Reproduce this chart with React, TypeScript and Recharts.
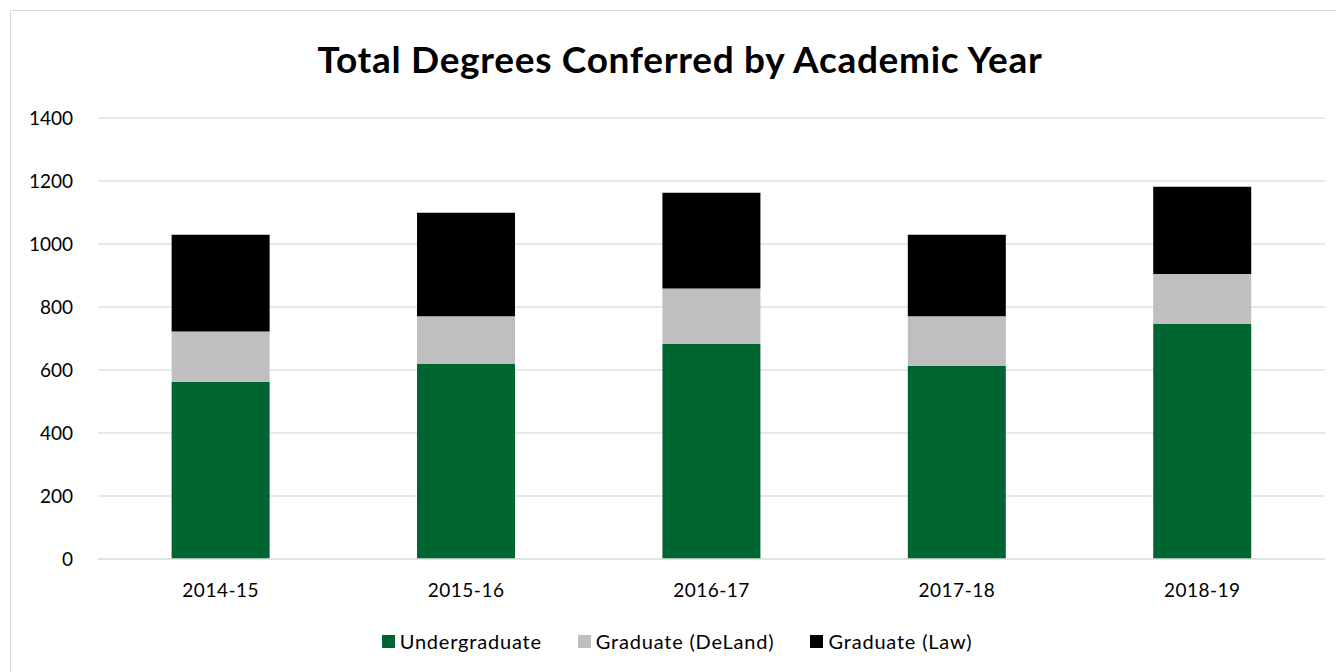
import React from "react";
import { BarChart, Bar, XAxis, YAxis, CartesianGrid } from "recharts";

const years = ["2014-15", "2015-16", "2016-17", "2017-18", "2018-19"];
const undergraduate = [563, 619, 683, 613, 746];
const graduateDeLand = [159, 152, 176, 158, 159];
const graduateLaw = [307, 328, 304, 258, 277];
const yTicks = [0, 200, 400, 600, 800, 1000, 1200, 1400];
const seriesNames = ["Undergraduate", "Graduate (DeLand)", "Graduate (Law)"];
const seriesKeys = ["undergraduate", "deland", "law"];
const seriesColors = ["#006631", "#bfbfbf", "#000000"];

const data = years.map((y, i) => ({
  year: y,
  undergraduate: undergraduate[i],
  deland: graduateDeLand[i],
  law: graduateLaw[i],
}));

const FONT = "Lato, 'Open Sans', sans-serif";

export default function App() {
  return (
    <div style={{ position: "absolute", left: 0, top: 0, width: 1336, height: 672, background: "#fff", overflow: "hidden" }}>
      <div style={{ position: "absolute", left: 10, top: 10, width: 1340, height: 680, border: "1px solid #d9d9d9", boxSizing: "border-box" }} />
      <div style={{ position: "absolute", left: 0, top: 36, width: 1360, textAlign: "center", fontFamily: FONT, fontWeight: 700, fontSize: 37, letterSpacing: 0.7, color: "#000" }}>
        Total Degrees Conferred by Academic Year
      </div>
      <div style={{ position: "absolute", left: 0, top: 0 }}>
        <BarChart width={1336} height={672} data={data} margin={{ top: 118, right: 11, bottom: 73, left: 0 }} barCategoryGap="30%">
          <CartesianGrid vertical={false} stroke="#dde1e6" strokeWidth={1.5} />
          <XAxis dataKey="year" axisLine={{ stroke: "#dde1e6", strokeWidth: 1.5 }} tickLine={false} tick={{ fill: "#000", fontSize: 19, fontFamily: FONT, letterSpacing: 0.5 }} tickMargin={19} height={40} />
          <YAxis domain={[0, 1400]} ticks={yTicks} axisLine={false} tickLine={false} width={98} tickSize={0} tickMargin={25} tick={{ fill: "#000", fontSize: 19, fontFamily: FONT }} />
          {seriesKeys.map((k, i) => (
            <Bar key={k} dataKey={k} name={seriesNames[i]} stackId="a" fill={seriesColors[i]} isAnimationActive={false} />
          ))}
        </BarChart>
      </div>
      <div style={{ position: "absolute", left: 0, top: 629, width: 1354, display: "flex", justifyContent: "center", fontFamily: FONT, fontSize: 20, letterSpacing: 0.8, color: "#000" }}>
        {seriesNames.map((n, i) => (
          <div key={n} style={{ display: "flex", alignItems: "center", marginRight: i < seriesNames.length - 1 ? 36 : 0 }}>
            <span style={{ display: "inline-block", width: 13, height: 13, background: seriesColors[i], marginRight: 5 }} />
            <span>{n}</span>
          </div>
        ))}
      </div>
    </div>
  );
}
